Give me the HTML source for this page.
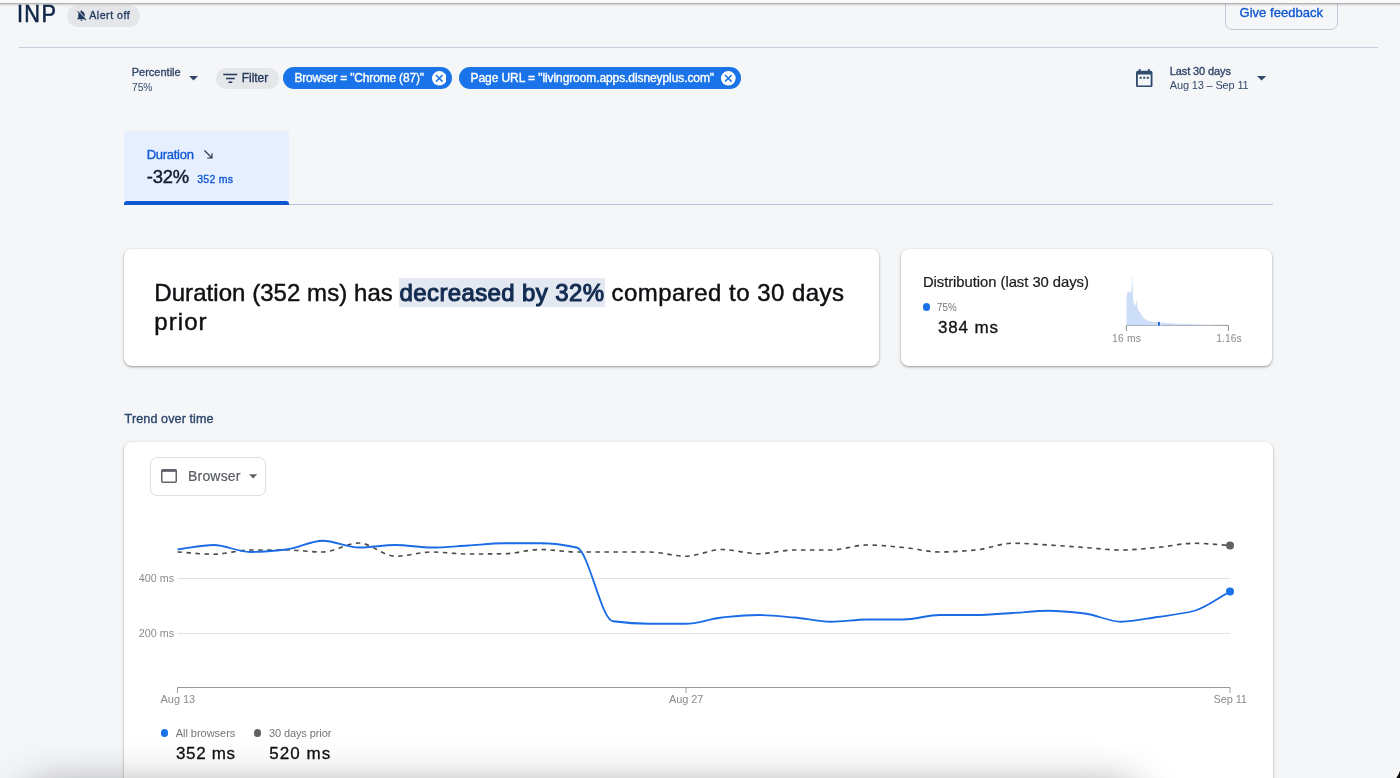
<!DOCTYPE html>
<html lang="en">
<head>
<meta charset="utf-8">
<title>INP – Performance</title>
<style>
  html, body { margin: 0; padding: 0; }
  html { background: #f5f6f8; }
  body {
    width: 1400px; height: 778px; overflow: hidden; position: relative;
    will-change: transform;
    font-family: "Liberation Sans", Arial, sans-serif;
    -webkit-font-smoothing: antialiased;
  }
  .abs { position: absolute; }
  .t { position: absolute; white-space: pre; }
  /* top browser-chrome strip */
  .topstrip { left: 0; top: 0; width: 1400px; height: 3px; background: #fafafa;
    border-bottom: 1px solid #b4b4b4; box-shadow: 0 1px 2px rgba(0,0,0,.18); z-index: 5; }
  .hr { height: 1px; background: #c3cfdd; }
  .pill { border-radius: 11px; height: 22px; }
  .pill.gray { background: #e4e6e9; }
  .pill.blue { background: #1a73e8; }
  .card { background: #fff; border-radius: 8px;
    box-shadow: 0 1px 2px rgba(0,0,0,.28), 0 1px 3px 1px rgba(0,0,0,.10); }
  .btn-outline { border: 1px solid #bccadb; border-radius: 7px; box-sizing: border-box; }
  .tab { left: 124px; top: 131px; width: 164.5px; height: 73.5px; background: #e6effe; }
  .tabbar { left: 124px; top: 201px; width: 164.5px; height: 3.5px; background: #0b57d0; border-radius: 3px 3px 0 0; }
  .hl { background: #e4e9f1; }
  .dot { border-radius: 50%; }
</style>
</head>
<body>

<!-- ===== header ===== -->
<div class="abs topstrip"></div>
<span class="t" style="left:16.9px;top:-1px;font-size:24.4px;line-height:29px;color:#0f2648;transform:scaleX(0.8910);transform-origin:0 50%;letter-spacing:1.5px;-webkit-text-stroke:0.6px currentColor;">INP</span>
<div class="abs pill gray" style="left:67px;top:4.5px;width:73px;height:22.5px;border-radius:11.5px"></div>
<svg class="abs" style="left:74.600px;top:8.600px" width="13" height="13" viewBox="0 0 24 24" fill="#203a60">
  <path d="M20 18.69 7.84 6.14 5.27 3.49 4 4.76l2.8 2.8v.01C6.28 8.6 6 9.77 6 11v5l-2 2v1h13.73l2 2L21 19.72l-1-1.03zM12 22c1.11 0 2-.89 2-2h-4c0 1.11.89 2 2 2zm6-7.32V11c0-3.08-1.64-5.64-4.5-6.32V4c0-.83-.67-1.500-1.500-1.500s-1.500.67-1.500 1.500v.68c-.15.03-.29.08-.42.12-.1.030-.2.07-.3.11h-.01c-.01 0-.01 0-.02.01-.23.09-.46.2-.68.31 0 0-.01 0-.01.01L18 14.680z"/>
</svg>
<span class="t" style="left:89.3px;top:9px;font-size:10.6px;line-height:13px;color:#203a60;letter-spacing:0.498px;-webkit-text-stroke:0.3px currentColor;">Alert off</span>
<div class="abs btn-outline" style="left:1225px;top:-10px;width:113px;height:39.500px;"></div>
<span class="t" style="left:1239.5px;top:5px;font-size:13px;line-height:16px;color:#0f57d0;letter-spacing:0.033px;-webkit-text-stroke:0.35px currentColor;">Give feedback</span>
<div class="abs hr" style="left:18.500px;top:46.500px;width:1359.500px"></div>

<!-- ===== filter row ===== -->
<span class="t" style="left:131.7px;top:66px;font-size:11px;line-height:13px;color:#33476a;letter-spacing:0.009px;-webkit-text-stroke:0.35px currentColor;">Percentile</span>
<span class="t" style="left:131.7px;top:81px;font-size:11px;line-height:13px;color:#33476a;transform:scaleX(0.9214);transform-origin:0 50%;">75%</span>
<svg class="abs" style="left:188.500px;top:76.200px" width="9" height="4.500" viewBox="0 0 10 5"><path d="M0 0h10L5 5z" fill="#33476a"/></svg>

<div class="abs pill gray" style="left:216px;top:67.500px;width:63.200px;height:21.500px;"></div>
<svg class="abs" style="left:223px;top:73px" width="15" height="11" viewBox="0 0 15 11" fill="none" stroke="#23395b" stroke-width="1.500">
  <path d="M0.200 1.500h14.100M3 5.500h8.800M5.500 9.300h3.800"/>
</svg>
<span class="t" style="left:241.8px;top:71px;font-size:12px;line-height:14px;color:#23395b;letter-spacing:-0.054px;-webkit-text-stroke:0.35px currentColor;">Filter</span>

<div class="abs pill blue" style="left:283.200px;top:67.200px;width:168.800px;height:22.100px;"></div>
<span class="t" style="left:294.4px;top:71px;font-size:12px;line-height:14px;color:#ffffff;letter-spacing:-0.180px;-webkit-text-stroke:0.35px currentColor;">Browser = "Chrome (87)"</span>
<svg class="abs" style="left:431.700px;top:71.100px" width="14.600" height="14.600" viewBox="0 0 14.600 14.600">
  <circle cx="7.300" cy="7.300" r="7.300" fill="#fff"/>
  <path d="M4 4l6.600 6.600M10.600 4L4 10.600" stroke="#1a73e8" stroke-width="1.500" fill="none"/>
</svg>

<div class="abs pill blue" style="left:459.100px;top:67.200px;width:282px;height:22.100px;"></div>
<span class="t" style="left:470.6px;top:71px;font-size:12px;line-height:14px;color:#ffffff;letter-spacing:-0.088px;-webkit-text-stroke:0.35px currentColor;">Page URL = "livingroom.apps.disneyplus.com"</span>
<svg class="abs" style="left:721.200px;top:71.100px" width="14.600" height="14.600" viewBox="0 0 14.600 14.600">
  <circle cx="7.300" cy="7.300" r="7.300" fill="#fff"/>
  <path d="M4 4l6.600 6.600M10.600 4L4 10.600" stroke="#1a73e8" stroke-width="1.500" fill="none"/>
</svg>

<!-- date range -->
<svg class="abs" style="left:1136px;top:69px" width="16.500" height="18.300" viewBox="0 0 18 20" fill="#304a6e">
  <path d="M16 2h-1V0h-2v2H5V0H3v2H2C.9 2 0 2.900 0 4v14c0 1.100.9 2 2 2h14c1.100 0 2-.9 2-2V4c0-1.100-.9-2-2-2zm0 16H2V6h14v12z"/>
  <rect x="4" y="8.500" width="2.200" height="2.200"/><rect x="7.900" y="8.500" width="2.200" height="2.200"/><rect x="11.800" y="8.500" width="2.200" height="2.200"/>
</svg>
<span class="t" style="left:1169.8px;top:65px;font-size:11px;line-height:13px;color:#33476a;letter-spacing:-0.107px;-webkit-text-stroke:0.35px currentColor;">Last 30 days</span>
<span class="t" style="left:1169.8px;top:79px;font-size:11px;line-height:13px;color:#33476a;letter-spacing:-0.161px;">Aug 13 – Sep 11</span>
<svg class="abs" style="left:1256.600px;top:76.200px" width="9.200" height="4.600" viewBox="0 0 10 5"><path d="M0 0h10L5 5z" fill="#304a6e"/></svg>

<!-- ===== metric tab ===== -->
<div class="abs hr" style="left:124px;top:204px;width:1148.500px;background:#b7c3d3"></div>
<div class="abs tab"></div>
<div class="abs tabbar"></div>
<span class="t" style="left:146.7px;top:147px;font-size:13px;line-height:16px;color:#1259d4;letter-spacing:-0.277px;-webkit-text-stroke:0.35px currentColor;">Duration</span>
<svg class="abs" style="left:203.500px;top:150.200px" width="9.500" height="9" viewBox="0 0 9.500 9" fill="none" stroke="#1f2a3d" stroke-width="1.100">
  <path d="M0.500 0.500l7.400 7.400M3.300 8h4.700V3.300"/>
</svg>
<span class="t" style="left:146.8px;top:166px;font-size:18.4px;line-height:22px;color:#131a2b;letter-spacing:-0.213px;-webkit-text-stroke:0.45px currentColor;">-32%</span>
<span class="t" style="left:197.2px;top:173px;font-size:10.5px;line-height:13px;color:#1259d4;letter-spacing:0.292px;-webkit-text-stroke:0.35px currentColor;">352 ms</span>

<!-- ===== summary card ===== -->
<div class="abs card" style="left:124px;top:248.500px;width:755px;height:117.500px;"></div>
<div class="abs hl" style="left:398.500px;top:278.400px;width:206.500px;height:28.700px;"></div>
<span class="t" style="left:154.3px;top:278px;font-size:24px;line-height:29px;color:#0e1013;letter-spacing:0.053px;-webkit-text-stroke:0.45px currentColor;">Duration (352 ms) has</span>
<span class="t" style="left:399.6px;top:278px;font-size:24px;line-height:29px;color:#132c52;letter-spacing:0.374px;-webkit-text-stroke:1.1px currentColor;">decreased by 32%</span>
<span class="t" style="left:611.5px;top:278px;font-size:24px;line-height:29px;color:#0e1013;letter-spacing:0.464px;-webkit-text-stroke:0.45px currentColor;">compared to 30 days</span>
<span class="t" style="left:154.3px;top:307px;font-size:24px;line-height:29px;color:#0e1013;letter-spacing:1.071px;-webkit-text-stroke:0.45px currentColor;">prior</span>

<!-- ===== distribution card ===== -->
<div class="abs card" style="left:900.500px;top:248.500px;width:371.700px;height:117.300px;"></div>
<span class="t" style="left:922.9px;top:273px;font-size:14.8px;line-height:18px;color:#1a1a1a;letter-spacing:-0.037px;-webkit-text-stroke:0.2px currentColor;">Distribution (last 30 days)</span>
<div class="abs dot" style="left:922.500px;top:303.300px;width:7.500px;height:7.500px;background:#1a73e8"></div>
<span class="t" style="left:937.4px;top:301px;font-size:11px;line-height:13px;color:#757575;transform:scaleX(0.8896);transform-origin:0 50%;">75%</span>
<span class="t" style="left:937.9px;top:318px;font-size:17px;line-height:20px;color:#0e1013;letter-spacing:0.850px;-webkit-text-stroke:0.3px currentColor;">384 ms</span>
<svg class="abs" style="left:1100px;top:265px" width="160" height="80" viewBox="1100 265 160 80">
  <path d="M1126.400,331 V325.400 H1228.400 V331" fill="none" stroke="#8f8f8f" stroke-width="1"/>
  <path d="M1126.400,325.400 L1126.400,301 C1126.500,296 1127,292.500 1127.800,291.800 L1131.300,291.800 L1132.300,274.800 L1133.200,300.500 C1134,303 1134.700,305 1135.700,305.600 L1136.600,299.700 L1137.700,308.800 C1138.500,310.500 1139.500,312 1140,312.400 C1142,315 1143,317 1144,318.200 C1146,320 1147.500,320.500 1148.600,320.800 C1151,321.700 1153,322 1155.500,322.300 C1160,322.800 1165,323 1169.400,323.200 C1180,323.800 1190,324 1192.500,324.200 C1205,325 1215,325.200 1228.400,325.400 Z" fill="#c6d9f7" fill-opacity="0.880"/>
  
  <rect x="1157.200" y="321.800" width="3" height="4.200" fill="#fff"/>
  <rect x="1157.900" y="322" width="1.900" height="3.800" fill="#0b57d0"/>
</svg>
<span class="t" style="left:1112.0px;top:333px;font-size:10.3px;line-height:12px;color:#8a8a8a;letter-spacing:0.238px;">16 ms</span>
<span class="t" style="left:1216.3px;top:333px;font-size:10.3px;line-height:12px;color:#8a8a8a;letter-spacing:0.049px;">1.16s</span>

<!-- ===== trend ===== -->
<span class="t" style="left:124.6px;top:412px;font-size:12.6px;line-height:15px;color:#2b456c;letter-spacing:0.090px;-webkit-text-stroke:0.35px currentColor;">Trend over time</span>
<div class="abs card" style="left:124px;top:441.500px;width:1148.500px;height:360px;"></div>

<div class="abs" style="left:150px;top:457px;width:116px;height:38.500px;border:1px solid #dcdee2;border-radius:7px;box-sizing:border-box;background:#fff"></div>
<svg class="abs" style="left:161px;top:469px" width="16" height="14" viewBox="0 0 16 14">
  <rect x="0.750" y="0.750" width="14.500" height="12.500" rx="1" fill="none" stroke="#5f6368" stroke-width="1.500"/>
  <rect x="0.750" y="0.750" width="14.500" height="2.100" fill="#5f6368"/>
</svg>
<span class="t" style="left:188.0px;top:468px;font-size:14px;line-height:17px;color:#585c61;letter-spacing:0.190px;-webkit-text-stroke:0.2px currentColor;">Browser</span>
<svg class="abs" style="left:249px;top:474.200px" width="8.400" height="4.600" viewBox="0 0 10 5"><path d="M0 0h10L5 5z" fill="#5f6368"/></svg>

<svg class="abs" style="left:124px;top:500px" width="1148" height="220" viewBox="124 500 1148 220">
  <path d="M177.500,578.500H1230M177.500,633.500H1230" stroke="#e2e2e2" stroke-width="1" fill="none"/>
  <path d="M177.500,693V687.500H1230V693M686,687.500V693" stroke="#9a9a9a" stroke-width="1" fill="none"/>
  <path d="M177.5,552.00C189.6,552.75 201.7,554.25 213.8,554.25C225.9,554.25 238.0,550.00 250.1,550.00C262.2,550.00 274.3,550.00 286.4,550.00C298.5,550.00 310.6,552.00 322.7,552.00C334.8,552.00 346.9,543.00 359.0,543.00C371.1,543.00 383.2,556.25 395.3,556.25C407.4,556.25 419.5,552.00 431.6,552.00C443.6,552.00 455.7,554.00 467.8,554.00C479.9,554.00 492.0,553.91 504.1,553.75C516.2,553.59 528.3,549.50 540.4,549.50C552.5,549.50 564.6,552.00 576.7,552.00C588.8,552.00 600.9,552.00 613.0,552.00C625.1,552.00 637.2,552.00 649.3,552.00C661.4,552.00 673.5,556.25 685.6,556.25C697.7,556.25 709.8,549.50 721.9,549.50C734.0,549.50 746.1,553.75 758.2,553.75C770.3,553.75 782.4,550.00 794.5,550.00C806.6,550.00 818.7,550.00 830.8,550.00C842.9,550.00 855.0,545.00 867.1,545.00C879.2,545.00 891.3,546.43 903.4,547.50C915.5,548.57 927.6,552.00 939.7,552.00C951.8,552.00 963.9,551.03 975.9,550.00C988.0,548.97 1000.1,543.25 1012.2,543.25C1024.3,543.25 1036.4,544.31 1048.5,545.00C1060.6,545.69 1072.7,546.67 1084.8,547.50C1096.9,548.33 1109.0,550.00 1121.1,550.00C1133.2,550.00 1145.3,548.55 1157.4,547.50C1169.5,546.45 1181.6,543.25 1193.7,543.25C1205.8,543.25 1217.9,544.75 1230.0,545.50" stroke="#4a4a4a" stroke-width="1.600" stroke-dasharray="4.500 4.500" fill="none"/>
  <path d="M177.5,549.50C189.6,548.00 201.7,545.00 213.8,545.00C225.9,545.00 238.0,552.00 250.1,552.00C262.2,552.00 274.3,550.80 286.4,549.50C298.5,548.20 310.6,540.75 322.7,540.75C334.8,540.75 346.9,547.50 359.0,547.50C371.1,547.50 383.2,545.00 395.3,545.00C407.4,545.00 419.5,547.50 431.6,547.50C443.6,547.50 455.7,546.21 467.8,545.50C479.9,544.79 492.0,543.25 504.1,543.25C516.2,543.25 528.3,543.25 540.4,543.25C552.5,543.25 564.6,544.82 576.7,547.50C588.8,550.18 600.9,619.64 613.0,621.25C625.1,622.86 637.2,623.75 649.3,623.75C661.4,623.75 673.5,623.75 685.6,623.75C697.7,623.75 709.8,618.69 721.9,617.50C734.0,616.31 746.1,615.00 758.2,615.00C770.3,615.00 782.4,616.45 794.5,617.50C806.6,618.55 818.7,621.75 830.8,621.75C842.9,621.75 855.0,619.50 867.1,619.50C879.2,619.50 891.3,619.50 903.4,619.50C915.5,619.50 927.6,615.00 939.7,615.00C951.8,615.00 963.9,615.00 975.9,615.00C988.0,615.00 1000.1,613.71 1012.2,613.00C1024.3,612.29 1036.4,610.75 1048.5,610.75C1060.6,610.75 1072.7,612.12 1084.8,613.50C1096.9,614.88 1109.0,621.75 1121.1,621.75C1133.2,621.75 1145.3,618.77 1157.4,617.00C1169.5,615.23 1181.6,614.06 1193.7,611.00C1205.8,607.94 1217.9,598.00 1230.0,591.50" stroke="#1a6be6" stroke-width="1.800" fill="none" stroke-linejoin="round"/>
  <circle cx="1230" cy="545.500" r="4" fill="#616161"/>
  <circle cx="1230" cy="591.500" r="4" fill="#1a73e8"/>
</svg>
<span class="t" style="left:138.7px;top:572px;font-size:10.7px;line-height:13px;color:#8a8a8a;letter-spacing:0.087px;">400 ms</span>
<span class="t" style="left:138.7px;top:627px;font-size:10.7px;line-height:13px;color:#8a8a8a;letter-spacing:0.087px;">200 ms</span>
<span class="t" style="left:160.6px;top:693px;font-size:11px;line-height:13px;color:#8a8a8a;letter-spacing:-0.075px;">Aug 13</span>
<span class="t" style="left:668.9px;top:693px;font-size:11px;line-height:13px;color:#8a8a8a;letter-spacing:-0.075px;">Aug 27</span>
<span class="t" style="left:1213.5px;top:693px;font-size:11px;line-height:13px;color:#8a8a8a;letter-spacing:-0.113px;">Sep 11</span>

<div class="abs dot" style="left:160.700px;top:729.300px;width:7.500px;height:7.500px;background:#1a73e8"></div>
<span class="t" style="left:175.7px;top:727px;font-size:11px;line-height:13px;color:#757575;letter-spacing:-0.028px;">All browsers</span>
<span class="t" style="left:176.0px;top:744px;font-size:17px;line-height:20px;color:#0e1013;letter-spacing:0.650px;-webkit-text-stroke:0.3px currentColor;">352 ms</span>
<div class="abs dot" style="left:253.900px;top:729.300px;width:7.500px;height:7.500px;background:#616161"></div>
<span class="t" style="left:268.9px;top:727px;font-size:11px;line-height:13px;color:#757575;letter-spacing:-0.091px;">30 days prior</span>
<span class="t" style="left:269.3px;top:744px;font-size:17px;line-height:20px;color:#0e1013;letter-spacing:1.050px;-webkit-text-stroke:0.3px currentColor;">520 ms</span>

<!-- bottom shadow (screenshot artefact) + rounded window corner -->
<div class="abs" style="left:30px;top:790px;width:1105px;height:60px;box-shadow:0 0 45px rgba(0,0,0,.45);"></div>
<svg class="abs" style="left:1380px;top:758px" width="20" height="20" viewBox="1380 758 20 20">
  <path d="M1400.500,769.200 A30,30 0 0 1 1395.600,779" fill="none" stroke="#fff" stroke-width="2.200"/>
  <path d="M1400.500,769.200 A30,30 0 0 1 1395.600,779 L1401,779 Z" fill="#0a0a0a"/>
</svg>

</body>
</html>
